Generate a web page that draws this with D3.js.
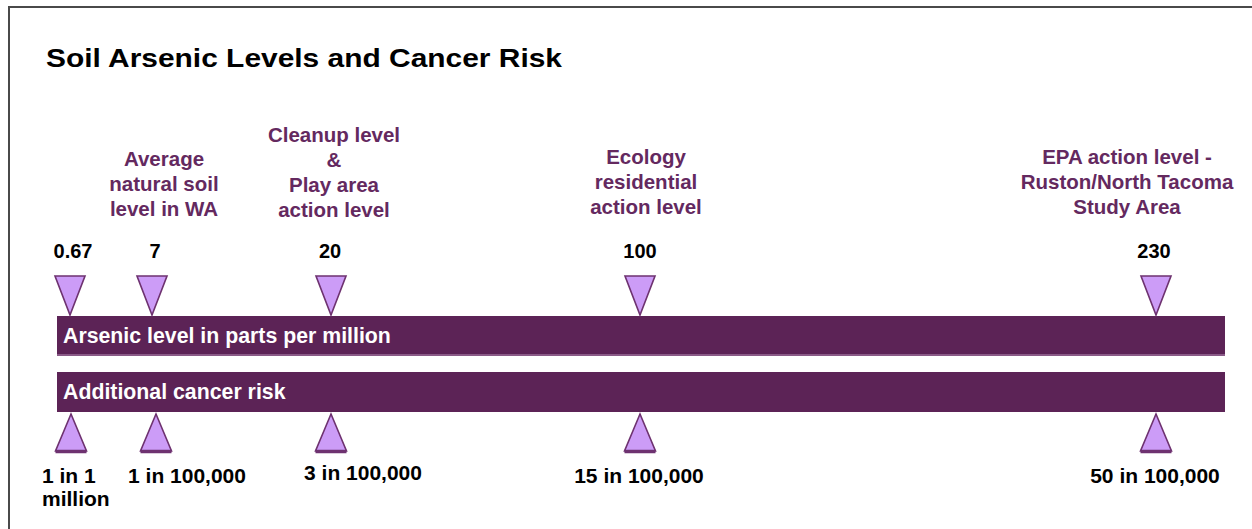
<!DOCTYPE html>
<html>
<head>
<meta charset="utf-8">
<script src="https://cdn.jsdelivr.net/npm/d3@7"></script>
<style>
  html, body { margin: 0; padding: 0; background: #fff; }
  svg { display: block; }
  text { font-family: "Liberation Sans", Arial, Helvetica, sans-serif; font-weight: bold; }
</style>
</head>
<body>
<svg id="chart" width="1252" height="529"></svg>
<script>
// ---- data ----
const chartTitle = "Soil Arsenic Levels and Cancer Risk";
const barLabels = ["Arsenic level in parts per million", "Additional cancer risk"];
const arsenicLevels = [0.67, 7, 20, 100, 230];                 // ppm
const arsenicLabels = ["0.67", "7", "20", "100", "230"];
const levelDescriptions = [
  [],
  ["Average", "natural soil", "level in WA"],
  ["Cleanup level", "&", "Play area", "action level"],
  ["Ecology", "residential", "action level"],
  ["EPA action level -", "Ruston/North Tacoma", "Study Area"]
];
const riskPerMillion = [1, 10, 30, 150, 500];                   // additional cancer risk per million
const riskLabels = [["1 in 1", "million"], ["1 in 100,000"], ["3 in 100,000"], ["15 in 100,000"], ["50 in 100,000"]];

// ---- layout ----
const W = 1252, H = 529;
const svg = d3.select("#chart");
const purple = "#5c2356", lavender = "#cc9cf7", edge = "#6e3270", descColor = "#64295f";

// schematic (non-proportional) positions along the bars: piecewise linear scales
const xLevel = d3.scaleLinear().domain(arsenicLevels).range([70, 152, 331, 640, 1156]);
const xRisk  = d3.scaleLinear().domain(riskPerMillion).range([71, 156, 331, 640, 1156]);
const bar = { x0: 57, x1: 1225, h: 40, y: [316, 372] };

// frame
svg.append("path")
  .attr("d", `M9,${H} L9,7 L${W},7`)
  .attr("fill", "none").attr("stroke", "#4a4a4a").attr("stroke-width", 2);

// title
svg.append("text")
  .attr("x", 46).attr("y", 67)
  .attr("font-size", 25).attr("fill", "#000")
  .attr("textLength", 516).attr("lengthAdjust", "spacingAndGlyphs")
  .text(chartTitle);

// bars
const barG = svg.append("g");
barLabels.forEach((lbl, i) => {
  barG.append("rect")
    .attr("x", bar.x0).attr("y", bar.y[i])
    .attr("width", bar.x1 - bar.x0).attr("height", bar.h)
    .attr("fill", purple);
  barG.append("rect")
    .attr("x", bar.x0).attr("y", bar.y[i] + bar.h - 2)
    .attr("width", bar.x1 - bar.x0).attr("height", 2)
    .attr("fill", "#8a5a87").attr("opacity", i === 0 ? 1 : 0);
  barG.append("text")
    .attr("x", 63).attr("y", bar.y[i] + 27)
    .attr("font-size", 21.3).attr("fill", "#fff")
    .text(lbl);
});

// top markers (arsenic levels)
const topG = svg.append("g");
const tw = 15, tTop = 276, tTip = 315;
topG.selectAll("path.down").data(arsenicLevels).join("path")
  .attr("class", "down")
  .attr("d", d => { const x = xLevel(d); return `M${x - tw},${tTop} L${x + tw},${tTop} L${x},${tTip} Z`; })
  .attr("fill", lavender).attr("stroke", edge).attr("stroke-width", 1.6).attr("stroke-linejoin", "miter");

const valOffset = [3, 3, -1, 0, -2];
topG.selectAll("text.val").data(arsenicLevels).join("text")
  .attr("class", "val")
  .attr("x", (d, i) => xLevel(d) + valOffset[i]).attr("y", 258)
  .attr("text-anchor", "middle").attr("font-size", 20).attr("fill", "#000")
  .text((d, i) => arsenicLabels[i]);

const descOffset = [0, 12, 3, 6, -29];
const descBottom = [0, 216, 217, 214, 214];
levelDescriptions.forEach((lines, i) => {
  const t = topG.append("text")
    .attr("text-anchor", "middle").attr("font-size", 20.5).attr("fill", descColor);
  lines.forEach((ln, j) => {
    t.append("tspan")
      .attr("x", xLevel(arsenicLevels[i]) + descOffset[i])
      .attr("y", descBottom[i] - (lines.length - 1 - j) * 25)
      .text(ln);
  });
});

// bottom markers (cancer risk)
const botG = svg.append("g");
const bw = 15.5, bTip = 414, bBase = 451;
botG.selectAll("path.up").data(riskPerMillion).join("path")
  .attr("class", "up")
  .attr("d", d => { const x = xRisk(d); return `M${x},${bTip} L${x + bw},${bBase} L${x - bw},${bBase} Z`; })
  .attr("fill", lavender).attr("stroke", edge).attr("stroke-width", 1.6);
botG.selectAll("line.base").data(riskPerMillion).join("line")
  .attr("class", "base")
  .attr("x1", d => xRisk(d) - bw).attr("x2", d => xRisk(d) + bw)
  .attr("y1", bBase + 0.5).attr("y2", bBase + 0.5)
  .attr("stroke", edge).attr("stroke-width", 3.5);

const riskOffset = [0, 31, 32, -1, -1];
riskLabels.forEach((lines, i) => {
  const first = i === 0;
  const t = botG.append("text")
    .attr("text-anchor", first ? "start" : "middle")
    .attr("font-size", 21).attr("fill", "#000");
  lines.forEach((ln, j) => {
    t.append("tspan")
      .attr("x", first ? 42 : xRisk(riskPerMillion[i]) + riskOffset[i])
      .attr("y", (i === 2 ? 480 : 483) + j * 23)
      .text(ln);
  });
});
</script>
</body>
</html>
